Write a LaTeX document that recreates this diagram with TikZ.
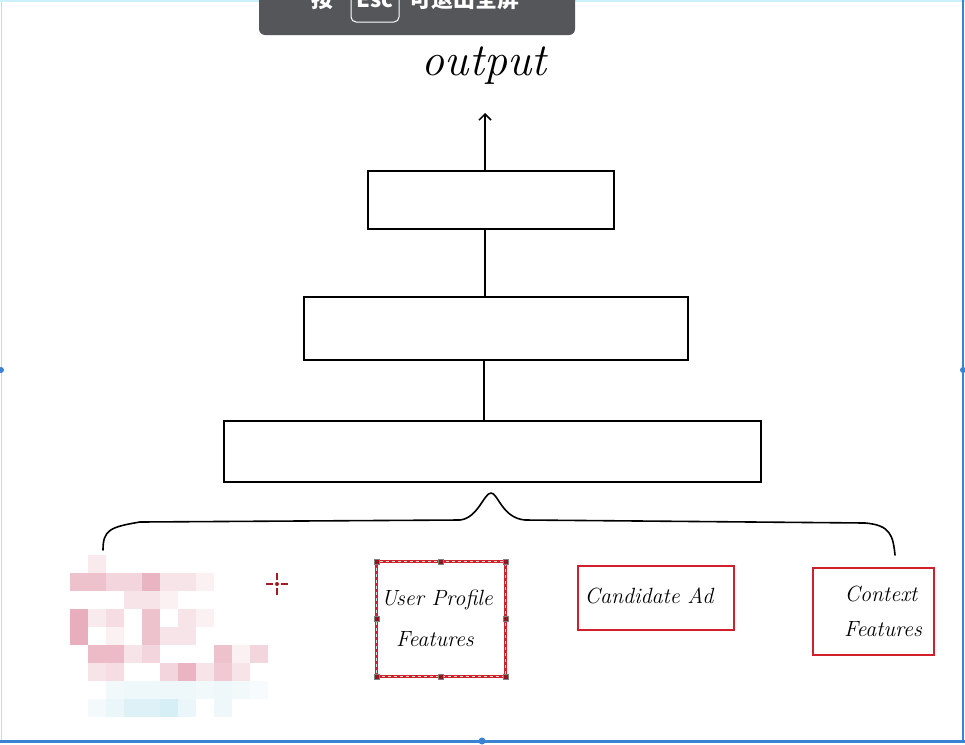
\documentclass[tikz,border=0pt]{standalone}
\usepackage{fontspec}
\newfontfamily\cjk{Noto Sans CJK SC}
\usetikzlibrary{arrows.meta}
\definecolor{boxred}{RGB}{208,32,42}
\definecolor{bannergray}{RGB}{84,86,90}
\definecolor{framblue}{RGB}{60,130,210}
\definecolor{mospink}{RGB}{218,120,145}
\definecolor{mosblue}{RGB}{120,200,225}
\tikzset{
  layer/.style={draw,line width=2pt,inner sep=0pt},
  featbox/.style={draw=boxred,line width=2.6pt,inner sep=0pt},
  hand/.style={font=\fontsize{22}{22}\selectfont\itshape,inner sep=0pt},
  handle/.style={fill=boxred!70!black,draw=gray}
}
\begin{document}
\begin{tikzpicture}[x=1pt,y=-1pt]
\clip (0,0) rectangle (965,744);
\fill[white] (0,0) rectangle (965,744);
% screen frame
\draw[framblue!30,line width=1pt] (1,0) -- (1,741);
\draw[cyan!20,line width=2pt] (0,1) -- (965,1);
\draw[framblue,line width=2pt] (963,0) -- (963,741);
\draw[framblue,line width=3pt] (0,741.5) -- (965,741.5);
\fill[framblue] (1,370) circle (3) (963,370) circle (3) (482,741) circle (3.5);
% banner
\fill[bannergray,rounded corners=6pt] (259,-20) rectangle (575,35);
\draw[white,line width=1pt,rounded corners=5pt] (351,-15) rectangle (399,22);
\node[text=white,font=\cjk\fontsize{22}{22}\selectfont\bfseries,anchor=base] (esc) at (375,7) {Esc};
\node[text=white,font=\cjk\fontsize{22}{22}\selectfont\bfseries,anchor=base] (press) at (322,7) {按};
\node[text=white,font=\cjk\fontsize{22}{22}\selectfont\bfseries,anchor=base] (quit) at (464,7) {可退出全屏};
% layers
\node[font=\fontsize{46}{46}\selectfont\itshape] (out) at (484,66) {output};
\node[layer,minimum width=246,minimum height=58] (l1) at (491,200) {};
\node[layer,minimum width=384,minimum height=63] (l2) at (496,328) {};
\node[layer,minimum width=537,minimum height=61] (l3) at (492.5,451.5) {};
\draw[line width=1.5pt,-{Straight Barb[length=6pt,width=12pt]}] (l1.north -| 485,0) -- (485,113);
\draw[line width=1.5pt] (l2.north -| 485,0) -- (l1.south -| 485,0);
\draw[line width=1.5pt] (l3.north -| 484,0) -- (l2.south -| 484,0);
% brace
\draw[line width=1.6pt,line cap=round,line join=round]
  (103,550) .. controls (103,530) and (110,527) .. (140,522)
  -- (460,520) .. controls (478,518) and (484,493) .. (491,493)
  .. controls (498,493) and (502,518) .. (525,520)
  -- (865,523) .. controls (890,525) and (893,535) .. (895,555);
% features
\node[featbox,draw=none,minimum width=126,minimum height=112] (user) at (441,619) {};
\draw[boxred,line width=2.6pt] (user.north west) rectangle (user.south east);
\draw[white!70!gray,line width=0.8pt,dashed] (user.north west) rectangle (user.south east);
\foreach \a in {north west,north,north east,east,south east,south,south west,west}
  \draw[handle] (user.\a) ++(-2.5,-2.5) rectangle ++(5,5);
\node[hand] (user1) at (437,600) {User Profile};
\node[hand] (user2) at (435,639) {Features};
\node[featbox,minimum width=156,minimum height=64] (ad) at (656,598) {};
\node[hand] (ad1) at (649,596) {Candidate Ad};
\node[featbox,minimum width=121,minimum height=87] (ctx) at (873.5,611.5) {};
\node[hand] (ctx1) at (881,594) {Context};
\node[hand] (ctx2) at (883,629) {Features};
% cursor
\draw[boxred!80!black,line width=2pt] (266,584) -- (273,584) (281,584) -- (288,584) (277,573) -- (277,580) (277,588) -- (277,595);
\fill[boxred!80!black] (277,584) circle (2);
% mosaic
\foreach \c/\r/\o in {1/0/.15,0/1/.45,1/1/.45,2/1/.3,3/1/.3,4/1/.55,5/1/.2,6/1/.2,7/1/.1,
  3/2/.2,4/2/.2,5/2/.1,0/3/.6,1/3/.15,2/3/.25,4/3/.45,6/3/.2,7/3/.1,
  0/4/.6,2/4/.1,4/4/.45,5/4/.2,6/4/.2,1/5/.5,2/5/.5,3/5/.2,4/5/.3,8/5/.45,9/5/.1,10/5/.3,
  1/6/.2,2/6/.25,5/6/.3,6/6/.55,7/6/.2,8/6/.4,9/6/.2}
  \fill[mospink,opacity=\o] (70+18*\c,555+18*\r) rectangle ++(18,18);
\foreach \c/\o in {2/.1,3/.12,4/.12,5/.12,6/.12,7/.1,8/.12,9/.1,10/.06}
  \fill[mosblue,opacity=\o] (70+18*\c,681) rectangle ++(18,18);
\foreach \c/\o in {1/.08,2/.15,3/.25,4/.25,5/.3,6/.15,8/.12}
  \fill[mosblue,opacity=\o] (70+18*\c,699) rectangle ++(18,18);
\end{tikzpicture}
\end{document}
